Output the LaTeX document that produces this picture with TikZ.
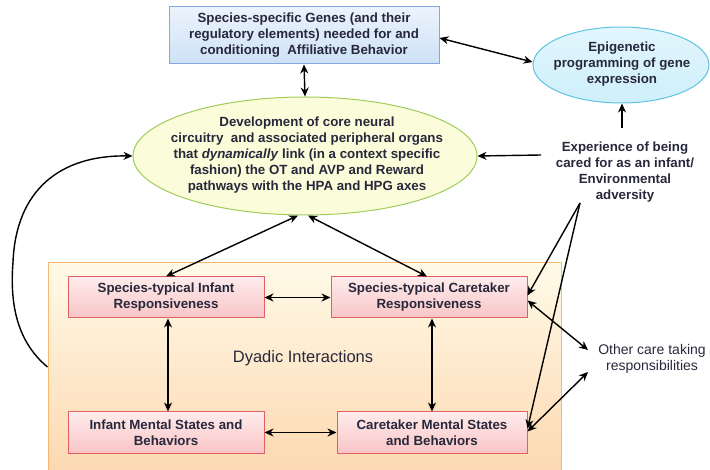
\documentclass[tikz,border=0pt]{standalone}
\usepackage{fontspec}
\setmainfont{Liberation Sans}
\usetikzlibrary{shapes.geometric,arrows.meta,calc}
\definecolor{txt}{RGB}{40,40,60}
\definecolor{bluet}{RGB}{236,243,252}
\definecolor{blueb}{RGB}{205,225,246}
\definecolor{bluebd}{RGB}{130,170,225}
\definecolor{epit}{RGB}{226,246,253}
\definecolor{epib}{RGB}{206,239,250}
\definecolor{epibd}{RGB}{95,195,225}
\definecolor{mainf}{RGB}{250,252,218}
\definecolor{mainbd}{RGB}{160,205,90}
\definecolor{pinkt}{RGB}{254,236,236}
\definecolor{pinkbot}{RGB}{249,196,198}
\definecolor{pinkbd}{RGB}{224,96,100}
\definecolor{orgt}{RGB}{255,250,232}
\definecolor{orgb}{RGB}{252,216,176}
\definecolor{orgbd}{RGB}{248,184,112}
\tikzset{
  tip/.tip={Stealth[length=9pt,width=8pt]},
  arr/.style={-tip, line width=1.4pt, black},
  dbl/.style={tip-tip, line width=1.4pt, black},
  bt/.style={font=\fontsize{13.3}{16}\selectfont\bfseries, text=txt, align=center},
  rt/.style={font=\fontsize{14}{16}\selectfont, text=txt, align=center},
  pinkbox/.style={draw=pinkbd, line width=1pt, top color=pinkt, bottom color=pinkbot,
    minimum width=196pt, minimum height=41pt, inner sep=0pt, bt},
}
\begin{document}
\begin{tikzpicture}[x=1pt,y=-1pt]
\useasboundingbox (0,0) rectangle (710,470);
\clip (0,0) rectangle (710,470);

% background group box
\node[draw=orgbd, line width=1pt, top color=orgt, bottom color=orgb,
  minimum width=513pt, minimum height=212pt, inner sep=0pt] (bg) at (304.5,369) {};
\node[font=\fontsize{16.5}{18}\selectfont, text=txt] (dyad) at (303,358) {Dyadic Interactions};

% top box
\node[draw=bluebd, line width=1pt, top color=bluet, bottom color=blueb,
  minimum width=270pt, minimum height=57pt, inner sep=0pt, bt] (top) at (304,35.5)
  {Species-specific Genes (and their\\regulatory elements) needed for and\\conditioning\ \ Affiliative Behavior};

% epigenetic ellipse
\node[ellipse, draw=epibd, line width=1pt, top color=epit, bottom color=epib,
  minimum width=176pt, minimum height=76pt, inner sep=0pt] (epi) at (621,65) {};
\node[bt] (epit) at (622,64) {Epigenetic\\programming of gene\\expression};

% main ellipse
\node[ellipse, draw=mainbd, line width=1pt, fill=mainf,
  minimum width=344pt, minimum height=118pt, inner sep=0pt] (main) at (305,156) {};
\node[bt] (maint) at (307,155) {Development of core neural\\circuitry\ \ and associated peripheral organs\\that \emph{dynamically} link (in a context specific\\fashion) the OT and AVP and Reward\\pathways with the HPA and HPG axes};

% experience text
\node[bt] (exp) at (625,172) {Experience of being\\cared for as an infant/\\Environmental\\adversity};
\node[rt] (oc) at (652,359) {Other care taking\\responsibilities};

% pink boxes
\node[pinkbox] (ir) at (166,297.5) {Species-typical Infant\\Responsiveness};
\node[pinkbox] (cr) at (429,297.5) {Species-typical Caretaker\\Responsiveness};
\node[pinkbox] (im) at (166,432.5) {Infant Mental States and\\Behaviors};
\node[pinkbox, minimum width=190pt] (cm) at (432,432.5) {Caretaker Mental States\\and Behaviors};

% connector end points
\coordinate (expL) at (541,155);
\coordinate (expT) at (622,128);
\coordinate (expB) at (580,203);
\coordinate (ocU) at (588,350);
\coordinate (ocD) at (588,372);

% connectors
\draw[dbl] (top.south) -- (main.north);
\draw[dbl] ([yshift=-2.5pt]top.east) -- ([yshift=3pt]epi.west);
\draw[arr] (expL) -- (main.east);
\draw[arr] (expT) -- (expT |- epi.south);
\draw[arr] (expB) -- ([yshift=2pt]cr.east);
\draw[arr] (expB) -- ([yshift=4pt]cm.east);
\draw[dbl] ([yshift=-3pt]cr.east) -- (ocU);
\draw[dbl] ([yshift=1pt]cm.east) -- (ocD);
\draw[dbl] (ir.east) -- (cr.west);
\draw[dbl] (im.east) -- (cm.west);
\draw[dbl] ([xshift=2pt]ir.south) -- ([xshift=2pt]im.north);
\draw[dbl] (cm.north |- cr.south) -- (cm.north);
\draw[dbl] ([xshift=-7pt]main.south) -- (ir.north);
\draw[dbl] ([xshift=3pt]main.south) -- ([xshift=-2pt]cr.north);
\draw[arr] (bg.west |- 0,367) .. controls (15,340) and (10,300) .. (13,262)
  .. controls (16,190) and (60,155) .. (main.west);
\end{tikzpicture}
\end{document}
